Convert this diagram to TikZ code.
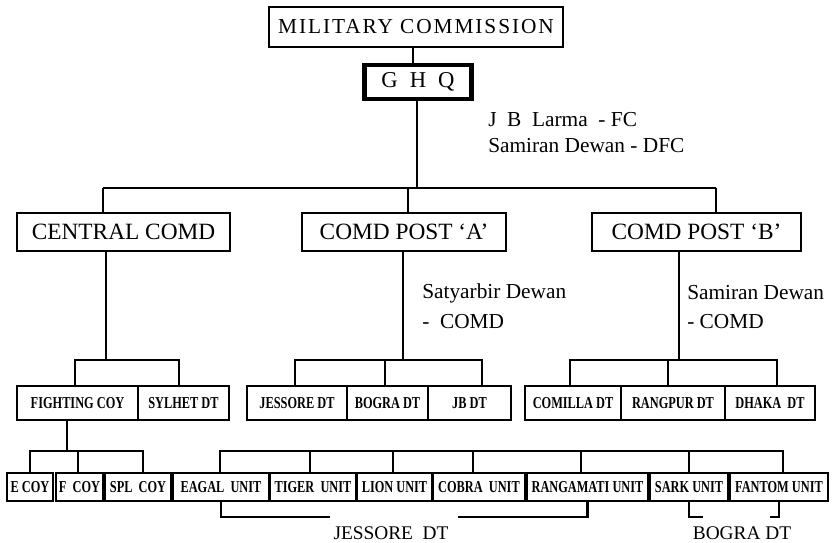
\documentclass[tikz,border=0pt]{standalone}
\usepackage{fontspec}
\setmainfont{Liberation Serif}
\newfontfamily\cond[FakeStretch=0.74]{Liberation Serif}
\newfontfamily\spaced[LetterSpace=9]{Liberation Serif}
\usetikzlibrary{calc}
\begin{document}
\begin{tikzpicture}[x=0.75pt,y=-0.75pt,
  bx/.style n args={2}{draw, line width=2pt, inner sep=0pt,
     minimum width=#1*0.75pt, minimum height=#2*0.75pt},
  big/.style={font=\fontsize{17.5}{20}\selectfont},
  small/.style={font=\cond\bfseries\fontsize{12.5}{14}\selectfont},
  con/.style={line width=2pt},
  thinc/.style={line width=1.1pt},
  lab/.style={anchor=west, inner sep=0pt, font=\fontsize{16}{19}\selectfont},
  bot/.style={inner sep=0pt, font=\fontsize{14.5}{17}\selectfont}
]
\useasboundingbox (0,0) rectangle (834,542);

% top
\node[bx={294}{40}, font=\spaced\fontsize{16}{18}\selectfont] (mil) at (416,27) {MILITARY COMMISSION};
\node[bx={107}{34}, line width=3.5pt, font=\fontsize{17}{19}\selectfont] (ghq) at (418,82) {G\hspace{9pt}H\hspace{9pt}Q};
\node[lab] (fc) at (488,120) {J\ \ B\ \ Larma\ \ - FC};
\node[lab] (dfc) at (488,146) {Samiran Dewan - DFC};

% level 2
\node[bx={213}{38}, big] (cc) at (123.5,232) {CENTRAL COMD};
\node[bx={204}{38}, big] (pa) at (404,232) {COMD POST ‘A’};
\node[bx={209}{38}, big] (pb) at (696.5,232) {COMD POST ‘B’};

\node[lab] (sa1) at (422,293) {Satyarbir Dewan};
\node[lab] (sa2) at (422,322) {-\ \ COMD};
\node[lab] (sb1) at (687,293) {Samiran Dewan};
\node[lab] (sb2) at (687,322) {- COMD};

% level 3
\node[bx={121}{34}, small] (fcoy) at (77.5,403) {FIGHTING COY};
\node[bx={91}{34}, small] (syl) at (183.5,403) {SYLHET DT};
\node[bx={100}{34}, small] (jes) at (297,403) {JESSORE DT};
\node[bx={81}{34}, small] (bog) at (387.5,403) {BOGRA DT};
\node[bx={83}{34}, small] (jb) at (469.5,403) {JB DT};
\node[bx={96}{34}, small] (com) at (573,403) {COMILLA DT};
\node[bx={104}{34}, small] (ran) at (673,403) {RANGPUR DT};
\node[bx={90}{34}, small] (dha) at (770,403) {DHAKA\ \ DT};

% level 4
\node[bx={46}{28}, small] (ecoy) at (30,487) {E COY};
\node[bx={47}{28}, small] (fcy) at (79.5,487) {F\ \ COY};
\node[bx={66}{28}, small] (spl) at (138,487) {SPL\ \ COY};
\node[bx={96}{28}, small] (eag) at (221,487) {EAGAL\ \ UNIT};
\node[bx={86}{28}, small] (tig) at (313,487) {TIGER\ \ UNIT};
\node[bx={75}{28}, small] (lio) at (394.5,487) {LION UNIT};
\node[bx={92}{28}, small] (cob) at (479,487) {COBRA\ \ UNIT};
\node[bx={121}{28}, small] (rgm) at (587.5,487) {RANGAMATI UNIT};
\node[bx={78}{28}, small] (sar) at (689,487) {SARK UNIT};
\node[bx={98}{28}, small] (fan) at (779,487) {FANTOM UNIT};

\node[bot] (ljes) at (391,533) {JESSORE\ \ DT};
\node[bot] (lbog) at (742,533) {BOGRA DT};

% connectors top
\draw[thinc] (mil.south -| 413,0) -- (ghq.north -| 413,0);
\coordinate (b0) at (417,188);
\coordinate (b1) at (103,188);
\coordinate (b2) at (408,188);
\coordinate (b3) at (716,188);
\draw[thinc] (ghq.south -| b0) -- (b0);
\draw[con] (b1) -- (b3);
\draw[con] (b1) -- (b1 |- cc.north);
\draw[con] (b2) -- (b2 |- pa.north);
\draw[con] (b3) -- (b3 |- pb.north);

% level 3 connectors
\coordinate (l0) at (106,360);
\coordinate (l1) at (75,360);
\coordinate (l2) at (179,360);
\draw[con] (l0 |- cc.south) -- (l0);
\draw[con] (l1 |- fcoy.north) -- (l1) -- (l2) -- (l2 |- syl.north);

\coordinate (m0) at (403,360);
\coordinate (m1) at (295,360);
\coordinate (m2) at (385,360);
\coordinate (m3) at (482,360);
\draw[con] (m0 |- pa.south) -- (m0);
\draw[con] (m1 |- jes.north) -- (m1) -- (m3) -- (m3 |- jb.north);
\draw[con] (m2) -- (m2 |- bog.north);

\coordinate (r0) at (679,360);
\coordinate (r1) at (570,360);
\coordinate (r2) at (668,360);
\coordinate (r3) at (777,360);
\draw[con] (r0 |- pb.south) -- (r0);
\draw[con] (r1 |- com.north) -- (r1) -- (r3) -- (r3 |- dha.north);
\draw[con] (r2) -- (r2 |- ran.north);

% level 4 connectors
\coordinate (f0) at (67,451);
\coordinate (f1) at (30,451);
\coordinate (f2) at (78,451);
\coordinate (f3) at (143,451);
\draw[con] (f0 |- fcoy.south) -- (f0);
\draw[con] (f1 |- ecoy.north) -- (f1) -- (f3) -- (f3 |- spl.north);
\draw[con] (f2) -- (f2 |- fcy.north);

\coordinate (u1) at (220,451);
\coordinate (u2) at (310,451);
\coordinate (u3) at (393,451);
\coordinate (u4) at (473,451);
\coordinate (u5) at (581,451);
\coordinate (u6) at (689,451);
\coordinate (u7) at (783,451);
\draw[con] (u1 |- eag.north) -- (u1) -- (u7) -- (u7 |- fan.north);
\draw[con] (u2) -- (u2 |- tig.north);
\draw[con] (u3) -- (u3 |- lio.north);
\draw[con] (u4) -- (u4 |- cob.north);
\draw[con] (u5) -- (u5 |- rgm.north);
\draw[con] (u6) -- (u6 |- sar.north);

% brackets
\coordinate (jl) at (330,517);
\coordinate (jr) at (458,517);
\coordinate (bl) at (703,517);
\coordinate (br) at (770,517);
\draw[con] (eag.south) |- (jl);
\draw[con] (jr) -| (rgm.south);
\draw[con] (sar.south) |- (bl);
\draw[con] (br) -| (fan.south);
\end{tikzpicture}
\end{document}
